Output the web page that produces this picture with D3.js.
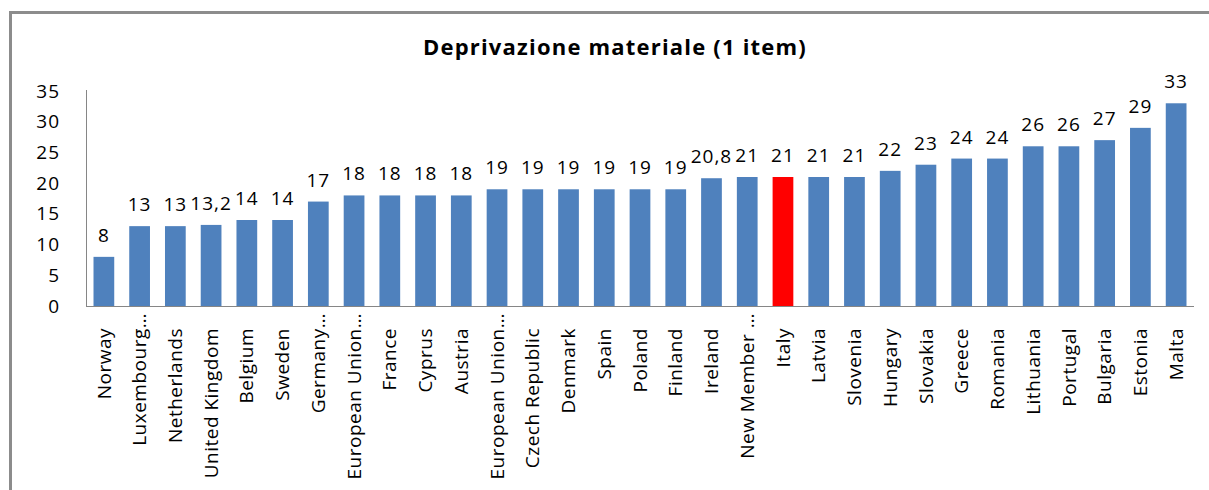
<!DOCTYPE html>
<html>
<head>
<meta charset="utf-8">
<script src="https://cdn.jsdelivr.net/npm/d3@7"></script>
<style>
  body { margin: 0; background: #fff; }
  svg { display: block; font-family: "Open Sans", sans-serif; }
</style>
</head>
<body>
<svg id="chart" width="1209" height="490"></svg>
<script>
// categories as shown on the axis (long ones are cut like in the original)
var countries = ["Norway", "Luxembourg…", "Netherlands", "United Kingdom", "Belgium", "Sweden",
  "Germany…", "European Union…", "France", "Cyprus", "Austria", "European Union…",
  "Czech Republic", "Denmark", "Spain", "Poland", "Finland", "Ireland", "New Member …",
  "Italy", "Latvia", "Slovenia", "Hungary", "Slovakia", "Greece", "Romania", "Lithuania",
  "Portugal", "Bulgaria", "Estonia", "Malta"];
var values = [8, 13, 13, 13.2, 14, 14, 17, 18, 18, 18, 18, 19, 19, 19, 19, 19, 19, 20.8, 21,
  21, 21, 21, 22, 23, 24, 24, 26, 26, 27, 29, 33];
var yTicks = [0, 5, 10, 15, 20, 25, 30, 35];
var highlight = "Italy";

(function() {
var svg = d3.select("#chart");

// outer frame (runs off the right and bottom edge)
svg.append("rect")
  .attr("x", 10.5).attr("y", 12.5)
  .attr("width", 1400).attr("height", 600)
  .attr("fill", "none").attr("stroke", "#8c8c8c").attr("stroke-width", 3);

var pLeft = 86, pRight = 1194, pTop = 91, pBottom = 306;

var x = d3.scaleBand()
  .domain(d3.range(countries.length))
  .range([pLeft, pRight])
  .paddingInner(0.42)
  .paddingOuter(0.21);

var y = d3.scaleLinear().domain([0, 35]).range([pBottom, pTop]);

svg.append("text")
  .attr("x", 615).attr("y", 55)
  .attr("text-anchor", "middle")
  .style("font-size", "22px").style("font-weight", "bold")
  .style("letter-spacing", "1.2px")
  .text("Deprivazione materiale (1 item)");

// y axis
var yAxis = svg.append("g")
  .attr("transform", "translate(" + pLeft + ",0)")
  .call(d3.axisLeft(y).tickValues(yTicks).tickSize(0).tickPadding(26));
yAxis.select(".domain").attr("stroke", "#868686").attr("d", "M0.5," + (pTop - 1) + "V" + pBottom);
yAxis.selectAll("text")
  .style("font-size", "19px").style("font-family", "Open Sans").style("letter-spacing", "1px")
  .attr("fill", "#000");

// bars
svg.selectAll(".bar")
  .data(values)
  .enter()
  .append("rect")
  .attr("class", "bar")
  .attr("x", function(d, i) { return x(i); })
  .attr("width", x.bandwidth())
  .attr("y", function(d) { return y(d); })
  .attr("height", function(d) { return pBottom - y(d); })
  .attr("fill", function(d, i) { return countries[i] == highlight ? "#ff0000" : "#4f81bd"; });

// x axis
var xAxis = svg.append("g")
  .attr("transform", "translate(0," + pBottom + ")")
  .call(d3.axisBottom(x).tickSize(0).tickFormat(function(i) { return countries[i]; }));
xAxis.select(".domain").attr("stroke", "#868686").attr("d", "M" + pLeft + ",0.5H" + pRight);
// truncated names sit higher, as in the excel original
xAxis.selectAll("text")
  .style("font-size", "19px").style("font-family", "Open Sans").style("letter-spacing", "0.5px")
  .attr("fill", "#000")
  .attr("text-anchor", "end")
  .attr("transform", "rotate(-90)")
  .attr("x", function(i) { return countries[i].slice(-1) == "…" ? -7 : -22; })
  .attr("y", 0).attr("dy", "0.35em");

// value labels
svg.selectAll(".label")
  .data(values)
  .enter()
  .append("text")
  .attr("class", "label")
  .attr("x", function(d, i) { return x(i) + x.bandwidth() / 2; })
  .attr("y", function(d) { return y(d) - 15; })
  .attr("text-anchor", "middle")
  .style("font-size", "19px").style("letter-spacing", "1px")
  .text(function(d) { return String(d).replace(".", ","); });
})();
</script>
</body>
</html>
